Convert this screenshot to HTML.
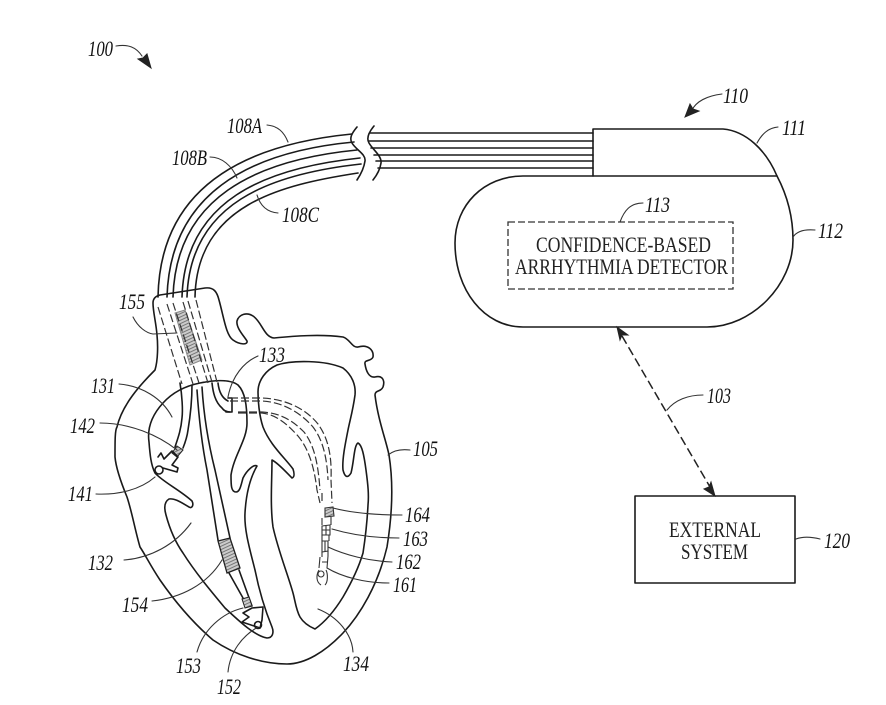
<!DOCTYPE html>
<html><head><meta charset="utf-8"><style>
html,body{margin:0;padding:0;background:#fff}
svg{display:block}
.l{fill:none;stroke:#1a1a1a;stroke-width:1.6;stroke-linecap:round;stroke-linejoin:round}
.t{fill:none;stroke:#333;stroke-width:1.1;stroke-linecap:round}
.d{fill:none;stroke:#333;stroke-width:1.2;stroke-dasharray:8 3}
.n{font:italic 22px "Liberation Serif",serif;fill:#111}
.b{font:22px "Liberation Serif",serif;fill:#222}
</style></head><body>
<svg width="886" height="705" viewBox="0 0 886 705" xmlns="http://www.w3.org/2000/svg">
<defs><pattern id="h" width="3" height="3" patternUnits="userSpaceOnUse" patternTransform="rotate(-25)"><rect width="3" height="3" fill="#ccc"/><rect width="3" height="1" fill="#777"/></pattern></defs>

<!-- leads -->
<g class="l">
<path d="M352,134C240,145 160,190 158,297"/>
<path d="M354,142C247,152 170,195 167,297"/>
<path d="M357,150C255,160 176,198 173,297"/>
<path d="M360,158C265,168 185,200 182,297"/>
<path d="M361,164C270,174 190,203 187,297"/>
<path d="M358,173C280,185 197,205 195,297"/>
<path d="M370,133H593M369,141H593M371,148H593M374,155H593M376,161H593M378,168H593"/>
<path d="M357,127C352,133 349,138 352,143C356,150 366,154 365,161C364,168 361,174 357,180"/>
<path d="M374,126C369,132 366,138 369,143C373,150 382,156 381,163C380,170 377,175 373,180"/>
</g>

<!-- device -->
<g class="l">
<path d="M593,176V129H723C746,131 766,150 777,176"/>
<path d="M777,176H523C484,176 455,205 455,243C455,290 484,327 523,327H707C752,327 793,285 793,240C793,215 787,195 777,176H593"/>
</g>
<rect x="508" y="222" width="225" height="67" fill="none" stroke="#333" stroke-width="1.3" stroke-dasharray="7 3"/>
<text class="b" x="536" y="252" textLength="175" lengthAdjust="spacingAndGlyphs">CONFIDENCE-BASED</text>
<text class="b" x="515" y="274" textLength="213" lengthAdjust="spacingAndGlyphs">ARRHYTHMIA DETECTOR</text>

<!-- external -->
<rect class="l" x="635" y="496" width="160" height="87"/>
<text class="b" x="669" y="537" textLength="92" lengthAdjust="spacingAndGlyphs">EXTERNAL</text>
<text class="b" x="681" y="559" textLength="67" lengthAdjust="spacingAndGlyphs">SYSTEM</text>
<path d="M622,336L710,487" fill="none" stroke="#222" stroke-width="1.5" stroke-dasharray="9 4"/>
<path d="M617,327L628,335L622,335L620,340Z" fill="#222" stroke="#222"/>
<path d="M715,496L704,489L709,487L711,482Z" fill="#222" stroke="#222"/>

<!-- heart outer -->
<g class="l">
<path d="M153,303C153,298 156,296 160,295L205,288C214,287 217,292 219,300C224,318 226,335 233,340C240,345 248,345 247,341C244,336 236,328 237,321C239,314 247,312 253,316C262,322 264,337 274,338C295,336 320,334 343,337C350,339 352,348 358,347C368,344 374,350 373,357C371,362 364,359 365,364C366,371 369,378 375,377C383,375 385,381 383,387C381,392 375,390 375,395C378,420 386,440 389,455C393,480 393,510 387,547C378,585 360,615 343,633C325,652 305,664 287,664C262,664 235,655 213,640C192,622 176,603 160,580C150,565 146,556 140,547C135,530 132,512 127,497C120,480 116,468 115,457C115,440 115,430 117,427C122,405 140,385 155,370C158,360 158,345 157,335C156,322 153,312 153,303Z"/>
<!-- RA + RV -->
<path d="M200,383C185,386 172,393 163,403C152,415 147,428 149,442C150,455 151,465 155,473C163,482 180,490 192,501C194,505 192,509 189,507C182,503 175,498 169,499C164,502 164,508 166,515C170,530 176,543 183,553C195,572 210,590 225,608C240,622 255,636 267,638C273,638 274,632 272,627C265,610 259,590 255,570C250,550 244,530 245,513C246,495 250,478 257,466C254,464 247,470 243,478C241,485 240,492 236,492C231,492 231,485 231,475C234,455 247,440 247,423C247,405 245,392 238,385C230,379 215,380 200,383"/>
<!-- LV / LA -->
<path d="M258,392C258,380 266,370 277,365C292,360 325,360 343,368C352,375 356,385 355,395C353,410 350,420 348,430C345,445 342,460 343,470C345,478 348,478 351,473C354,462 354,445 358,443C362,445 364,455 366,470C368,485 369,495 368,505C367,525 365,540 363,553C358,570 350,585 343,597C335,610 325,622 315,629C308,626 303,622 300,617C296,610 295,600 293,593C288,575 278,550 273,527C270,505 272,480 272,460C278,463 285,471 292,478C295,477 294,472 293,469C285,458 270,445 263,427C259,415 258,400 258,392Z"/>
<!-- RV lead -->
<path d="M197,390C199,420 203,450 207,470L218,540M202,387C204,420 210,450 215,470L230,538"/>
<path d="M229,573L243,598M239,570L252,606"/>
<!-- upper right lead -->
<path d="M212,383C213,392 215,402 222,408C224,411 227,412 230,412M218,383C219,392 222,398 228,401"/>
<path d="M228,398L232,398L232,412L226,412"/>
<!-- RA lead -->
<path d="M180,383C182,395 183,410 182,418C181,430 178,438 175,447M192,385C192,400 190,418 188,430C187,438 185,443 183,448"/>
</g>
<polygon points="218,541 230,538 240,568 227,573" fill="url(#h)" stroke="#222" stroke-width="1.3"/>
<polygon points="242,599 249,597 252,606 245,608" fill="url(#h)" stroke="#222"/>
<polygon points="172,453 177,446 183,450 177,457" fill="url(#h)" stroke="#222"/>
<!-- coil 155 -->
<polygon points="175,313 185,310 202,360 190,365" fill="url(#h)" stroke="#888" stroke-width="1"/>
<!-- dashed inside -->
<g class="d">
<path d="M158,307L182,384"/>
<path d="M167,304L193,384"/>
<path d="M173,303L199,383"/>
<path d="M183,302L208,383"/>
<path d="M188,301L212,382"/>
<path d="M196,300L217,382"/>
<path d="M230,398H262C285,399 305,408 318,424C328,438 332,455 331,480L332,503"/>
<path d="M230,401H262C282,402 300,412 313,427C323,440 327,458 328,480"/>
<path d="M238,412H262C280,413 292,420 304,432C314,445 318,462 320,490"/>
<path d="M238,413H262C277,415 287,424 298,436C308,448 314,465 317,490L320,503"/>
<path d="M322,493V504"/>
</g>
<!-- LV electrodes -->
<g fill="none" stroke="#333" stroke-width="1.1">
<polygon points="325,508 333,507 334,516 325,517" fill="url(#h)"/>
<polygon points="322,526 330,525 330,535 322,535"/>
<path d="M326,526V535M322,530H330"/>
<polygon points="322,541 328,541 328,551 322,552"/>
<path d="M325,541V551"/>
<path d="M322,518V525M331,517V525M322,535V541M329,535V541M322,552V557M328,551V556"/>
<path d="M320,557L319,568M328,556L327,568M322,562H327"/>
<path d="M319,570C316,575 316,582 321,585M326,570C328,574 328,582 325,585"/>
<circle cx="321" cy="574" r="3"/>
</g>
<!-- fixation tips -->
<path class="l" d="M158,457L161,453L164,459L172,451L178,457L172,465L178,468L177,472L163,468"/>
<circle class="l" cx="159" cy="470" r="4" fill="#fff"/>
<path class="l" d="M252,608L263,607L262,620L260,628L242,622L249,617L243,613Z"/>
<circle class="l" cx="258" cy="625" r="3.5" fill="#aaa"/>

<!-- leader lines -->
<g class="t">
<path d="M116,46C128,44 136,47 142,56"/>
<path d="M722,94C706,96 696,102 692,110"/>
<path d="M778,127C768,128 762,134 757,143"/>
<path d="M815,230C804,229 797,231 793,237"/>
<path d="M643,203C630,203 624,211 620,222"/>
<path d="M267,125C278,126 284,132 288,142"/>
<path d="M210,157C222,157 232,166 237,178"/>
<path d="M278,213C266,212 260,205 257,195"/>
<path d="M133,317C138,327 146,333 153,334L177,333"/>
<path d="M258,356C244,362 232,376 228,397"/>
<path d="M119,384C142,386 162,398 172,417"/>
<path d="M100,423C130,423 158,435 177,450"/>
<path d="M96,494C118,495 140,490 155,477"/>
<path d="M124,560C150,558 175,545 191,523"/>
<path d="M152,601C180,598 207,585 222,560"/>
<path d="M197,652C203,630 222,613 243,608"/>
<path d="M228,672C230,652 242,636 258,627"/>
<path d="M353,652C352,634 338,617 318,609"/>
<path d="M388,455C394,450 402,449 410,450"/>
<path d="M333,508C352,513 378,515 402,515"/>
<path d="M332,529C352,535 375,538 399,538"/>
<path d="M328,547C345,555 368,561 392,562"/>
<path d="M327,568C342,577 365,583 389,583"/>
<path d="M703,395C688,395 675,400 667,410"/>
<path d="M796,539C804,536 812,537 820,539"/>
</g>
<path d="M151,68L138,59L143,58L147,54Z" fill="#222" stroke="#222"/>
<path d="M685,117L690,104L693,109L699,111Z" fill="#222" stroke="#222"/>

<!-- labels -->
<g class="n">
<text x="88" y="56" textLength="25" lengthAdjust="spacingAndGlyphs">100</text>
<text x="723" y="103" textLength="25" lengthAdjust="spacingAndGlyphs">110</text>
<text x="782" y="135" textLength="24" lengthAdjust="spacingAndGlyphs">111</text>
<text x="818" y="238" textLength="25" lengthAdjust="spacingAndGlyphs">112</text>
<text x="645" y="212" textLength="25" lengthAdjust="spacingAndGlyphs">113</text>
<text x="227" y="133" textLength="35" lengthAdjust="spacingAndGlyphs">108A</text>
<text x="172" y="165" textLength="35" lengthAdjust="spacingAndGlyphs">108B</text>
<text x="282" y="222" textLength="37" lengthAdjust="spacingAndGlyphs">108C</text>
<text x="119" y="309" textLength="26" lengthAdjust="spacingAndGlyphs">155</text>
<text x="259" y="362" textLength="26" lengthAdjust="spacingAndGlyphs">133</text>
<text x="91" y="393" textLength="24" lengthAdjust="spacingAndGlyphs">131</text>
<text x="70" y="433" textLength="25" lengthAdjust="spacingAndGlyphs">142</text>
<text x="68" y="501" textLength="25" lengthAdjust="spacingAndGlyphs">141</text>
<text x="88" y="570" textLength="25" lengthAdjust="spacingAndGlyphs">132</text>
<text x="122" y="612" textLength="26" lengthAdjust="spacingAndGlyphs">154</text>
<text x="176" y="673" textLength="25" lengthAdjust="spacingAndGlyphs">153</text>
<text x="217" y="694" textLength="24" lengthAdjust="spacingAndGlyphs">152</text>
<text x="343" y="671" textLength="26" lengthAdjust="spacingAndGlyphs">134</text>
<text x="413" y="456" textLength="25" lengthAdjust="spacingAndGlyphs">105</text>
<text x="405" y="522" textLength="25" lengthAdjust="spacingAndGlyphs">164</text>
<text x="403" y="546" textLength="25" lengthAdjust="spacingAndGlyphs">163</text>
<text x="396" y="569" textLength="25" lengthAdjust="spacingAndGlyphs">162</text>
<text x="393" y="592" textLength="24" lengthAdjust="spacingAndGlyphs">161</text>
<text x="707" y="403" textLength="24" lengthAdjust="spacingAndGlyphs">103</text>
<text x="824" y="548" textLength="26" lengthAdjust="spacingAndGlyphs">120</text>
</g>
</svg>
</body></html>
